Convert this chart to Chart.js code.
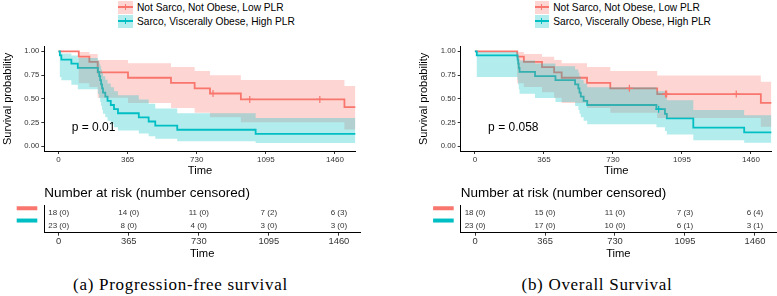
<!DOCTYPE html>
<html>
<head>
<meta charset="utf-8">
<script src="https://cdn.jsdelivr.net/npm/chart.js@4/dist/chart.umd.min.js"></script>
<style>
  body { margin: 0; width: 777px; height: 296px; position: relative; background: #fff; overflow: hidden;
         font-family: 'Liberation Sans', Arial, sans-serif; }
  canvas { position: absolute; }
  .legend { position: absolute; top: 0; width: 260px; height: 30px; }
  .item { position: absolute; left: 0; height: 13px; }
  .key { position: absolute; left: 0; top: 0; width: 14.4px; height: 13px; }
  .key .h { position: absolute; left: 0; right: 0; top: 5.75px; height: 1.5px; }
  .key .v { position: absolute; left: 6.7px; top: 3.5px; width: 1px; height: 6px; }
  .lab { position: absolute; left: 18.7px; top: 0; line-height: 13px; font-size: 10.2px; color: #000; white-space: nowrap; }
  .caption { position: absolute; top: 275px; transform: translateX(-50%); white-space: nowrap;
             font-family: 'Liberation Serif', 'DejaVu Serif', serif; font-size: 17px; line-height: 20px;
             letter-spacing: 0.7px; color: #000; }
</style>
</head>
<body>
<div class="legend" id="pfsLegend" style="left:118.3px"></div>
<div class="legend" id="osLegend" style="left:534.5px"></div>
<canvas id="pfsMain" width="361" height="138" style="left:0;top:40px"></canvas>
<canvas id="pfsRisk" width="361" height="78" style="left:0;top:183px"></canvas>
<canvas id="osMain" width="361" height="138" style="left:416px;top:40px"></canvas>
<canvas id="osRisk" width="361" height="78" style="left:416px;top:183px"></canvas>
<div class="caption" style="left:180.5px">(a) Progression-free survival</div>
<div class="caption" style="left:597px">(b) Overall Survival</div>
<script>
const FONT = "'Liberation Sans', Arial, sans-serif";
Chart.defaults.font.family = FONT;
Chart.defaults.color = '#333';

const groupNames = ['Not Sarco, Not Obese, Low PLR', 'Sarco, Viscerally Obese, High PLR'];
const lineColors = ['#F8766D', '#00BFC4'];
const bandColors = ['rgba(248,118,109,0.3)', 'rgba(0,191,196,0.3)'];
const timeTicks = [0, 365, 730, 1095, 1460];
const probTicks = [0, 0.25, 0.5, 0.75, 1];
const riskRows = [2, 1];

// (a) progression-free survival
const pfsTimeA = [0, 107, 163, 207, 367, 594, 719, 800, 963, 1510, 1568];
const pfsSurvA = [1, 0.944, 0.889, 0.778, 0.722, 0.667, 0.611, 0.556, 0.494, 0.412, 0.412];
const pfsUpperA = [1, 0.992, 0.971, 0.910, 0.874, 0.834, 0.792, 0.748, 0.698, 0.635, 0.635];
const pfsLowerA = [1, 0.664, 0.624, 0.511, 0.456, 0.404, 0.353, 0.306, 0.252, 0.177, 0.177];
const pfsCensorTimeA = [816, 1010, 1380];
const pfsCensorSurvA = [0.556, 0.494, 0.494];

const pfsTimeB = [0, 7, 15, 68, 102, 208, 215, 220, 225, 230, 235, 247, 259, 276, 293, 314, 424, 476, 511, 627, 1041, 1568];
const pfsSurvB = [1, 0.957, 0.913, 0.870, 0.826, 0.783, 0.739, 0.696, 0.652, 0.609, 0.565, 0.522, 0.478, 0.435, 0.391, 0.348, 0.304, 0.261, 0.217, 0.174, 0.130, 0.130];
const pfsUpperB = [1, 0.994, 0.978, 0.956, 0.931, 0.903, 0.873, 0.842, 0.808, 0.774, 0.737, 0.700, 0.662, 0.621, 0.580, 0.537, 0.493, 0.447, 0.399, 0.349, 0.297, 0.297];
const pfsLowerB = [1, 0.729, 0.695, 0.648, 0.600, 0.554, 0.509, 0.466, 0.423, 0.383, 0.343, 0.305, 0.268, 0.233, 0.199, 0.166, 0.135, 0.106, 0.079, 0.054, 0.033, 0.033];
const pfsCensorTimeB = [];
const pfsCensorSurvB = [];

const pfsAtRiskA = [18, 14, 11, 7, 6];
const pfsCensoredA = [0, 0, 0, 2, 3];
const pfsAtRiskB = [23, 8, 4, 3, 3];
const pfsCensoredB = [0, 0, 0, 0, 0];
const pfsPValue = 'p = 0.01';

// (b) overall survival
const osTimeA = [0, 224, 259, 355, 419, 459, 593, 716, 964, 1512, 1568];
const osSurvA = [1, 0.944, 0.889, 0.833, 0.778, 0.722, 0.667, 0.611, 0.550, 0.458, 0.458];
const osUpperA = [1, 0.992, 0.971, 0.943, 0.910, 0.874, 0.834, 0.792, 0.745, 0.681, 0.681];
const osLowerA = [1, 0.664, 0.624, 0.568, 0.511, 0.456, 0.404, 0.353, 0.298, 0.205, 0.205];
const osCensorTimeA = [817, 1008, 1014, 1382];
const osCensorSurvA = [0.611, 0.550, 0.550, 0.550];

const osTimeB = [0, 10, 226, 229, 232, 236, 318, 426, 530, 547, 553, 560, 575, 594, 960, 1005, 1015, 1155, 1424, 1568];
const osSurvB = [1, 0.957, 0.913, 0.870, 0.826, 0.783, 0.739, 0.696, 0.652, 0.609, 0.565, 0.522, 0.478, 0.435, 0.391, 0.342, 0.293, 0.196, 0.147, 0.147];
const osUpperB = [1, 0.994, 0.978, 0.956, 0.931, 0.903, 0.873, 0.842, 0.808, 0.774, 0.737, 0.700, 0.662, 0.621, 0.580, 0.534, 0.486, 0.382, 0.326, 0.326];
const osLowerB = [1, 0.729, 0.695, 0.648, 0.600, 0.554, 0.509, 0.466, 0.423, 0.383, 0.343, 0.305, 0.268, 0.233, 0.199, 0.160, 0.125, 0.063, 0.038, 0.038];
const osCensorTimeB = [972];
const osCensorSurvB = [0.391];

const osAtRiskA = [18, 15, 11, 7, 6];
const osCensoredA = [0, 0, 0, 3, 4];
const osAtRiskB = [23, 17, 10, 6, 3];
const osCensoredB = [0, 0, 0, 1, 1];
const osPValue = 'p = 0.058';

const pValuePos = { x: 70, y: 0.195 };

const pts = (xs, ys) => xs.map((x, i) => ({ x, y: ys[i] }));

const axisStyle = {
  grid: { drawOnChartArea: false, drawTicks: true, tickLength: 3, color: '#333' },
  border: { display: true, color: '#000', width: 1 }
};

function timeAxis(height, tickSize, tickPad) {
  return {
    type: 'linear',
    min: -75,
    max: 1570,
    afterBuildTicks: s => { s.ticks = timeTicks.map(v => ({ value: v })); },
    afterFit: s => { s.height = height; },
    ticks: {
      font: { size: tickSize }, color: '#333', padding: tickPad, maxRotation: 0, autoSkip: false,
      callback: v => String(v)
    },
    title: { display: true, text: 'Time', font: { size: 11.2 }, color: '#000', padding: 0 },
    ...axisStyle
  };
}

const pValueLabel = {
  id: 'pValueLabel',
  afterDatasetsDraw(chart, args, opts) {
    const { ctx, scales: { x, y } } = chart;
    ctx.save();
    ctx.font = `12px ${FONT}`;
    ctx.fillStyle = '#000';
    ctx.textAlign = 'left';
    ctx.textBaseline = 'middle';
    ctx.fillText(opts.text, x.getPixelForValue(pValuePos.x), y.getPixelForValue(pValuePos.y));
    ctx.restore();
  }
};

const riskLabels = {
  id: 'riskLabels',
  afterDatasetsDraw(chart) {
    const { ctx, chartArea } = chart;
    ctx.save();
    ctx.font = `8px ${FONT}`;
    ctx.textAlign = 'center';
    ctx.textBaseline = 'middle';
    chart.data.datasets.forEach((ds, g) => {
      const meta = chart.getDatasetMeta(g);
      ctx.fillStyle = '#333';
      meta.data.forEach((pt, j) => ctx.fillText(ds.labels[j], pt.x, pt.y));
      // coloured strata key left of the table
      ctx.fillStyle = lineColors[g];
      ctx.fillRect(chartArea.left - 27.6, meta.data[0].y - 6.8, 20.6, 4);
    });
    ctx.restore();
  }
};

function survivalChart(id, yWidth, curves, pText) {
  const datasets = [];
  curves.forEach((c, g) => datasets.push({
    data: pts(c.time, c.surv), borderColor: lineColors[g], borderWidth: 1.8,
    stepped: 'before', pointRadius: 0, fill: false, order: 4 - g
  }));
  curves.forEach((c, g) => {
    datasets.push({
      data: pts(c.time, c.upper), borderColor: 'rgba(0,0,0,0)', borderWidth: 0,
      backgroundColor: bandColors[g], fill: '+1', stepped: 'before', pointRadius: 0, order: 2 - g
    });
    datasets.push({
      data: pts(c.time, c.lower), borderColor: 'rgba(0,0,0,0)', borderWidth: 0,
      fill: false, stepped: 'before', pointRadius: 0, order: 2 - g
    });
  });
  curves.forEach((c, g) => datasets.push({
    data: pts(c.censorTime, c.censorSurv), showLine: false, pointStyle: 'cross',
    pointRadius: 3.5, pointBorderWidth: 1.2, pointBorderColor: lineColors[g],
    borderColor: lineColors[g], order: 0
  }));

  return new Chart(document.getElementById(id), {
    type: 'line',
    data: { datasets },
    options: {
      responsive: false,
      animation: false,
      devicePixelRatio: 1,
      events: [],
      layout: { padding: { top: 4.4, right: 1, left: 0, bottom: 0 } },
      plugins: {
        legend: { display: false },
        tooltip: { enabled: false },
        pValueLabel: { text: pText }
      },
      scales: {
        x: timeAxis(27, 8, 1.2),
        y: {
          min: -0.05,
          max: 1.05,
          afterBuildTicks: s => { s.ticks = probTicks.map(v => ({ value: v })); },
          afterFit: s => { s.width = yWidth; },
          ticks: { font: { size: 7.7 }, color: '#333', padding: 2, callback: v => v.toFixed(2) },
          title: {
            display: true, text: 'Survival probability', font: { size: 11 }, color: '#000',
            padding: { top: 1.4, bottom: 0 }
          },
          ...axisStyle
        }
      }
    },
    plugins: [pValueLabel]
  });
}

function riskChart(id, yWidth, risk) {
  const datasets = risk.map((r, g) => ({
    data: timeTicks.map(t => ({ x: t, y: riskRows[g] })),
    labels: r.atRisk.map((n, j) => `${n} (${r.censored[j]})`),
    pointRadius: 0,
    showLine: false
  }));
  return new Chart(document.getElementById(id), {
    type: 'scatter',
    data: { datasets },
    options: {
      responsive: false,
      animation: false,
      devicePixelRatio: 1,
      events: [],
      layout: { padding: { top: 0, right: 1, left: 0, bottom: 0 } },
      plugins: {
        legend: { display: false },
        tooltip: { enabled: false },
        title: {
          display: true, text: 'Number at risk (number censored)', align: 'start', fullSize: false,
          color: '#000', font: { size: 13.5, weight: 'normal' }, padding: { top: 2, bottom: 4.5 }
        }
      },
      scales: {
        x: timeAxis(28.3, 9.4, 0.4),
        y: {
          min: 0.4,
          max: 2.6,
          afterFit: s => { s.width = yWidth; },
          ticks: { display: false },
          grid: { display: false },
          border: { display: true, color: '#000', width: 1 }
        }
      }
    },
    plugins: [riskLabels]
  });
}

function legend(id) {
  const box = document.getElementById(id);
  groupNames.forEach((name, g) => {
    const item = document.createElement('div');
    item.className = 'item';
    item.style.top = (0.5 + g * 14) + 'px';
    item.innerHTML =
      `<div class="key" style="background:${bandColors[g]}">` +
      `<div class="h" style="background:${lineColors[g]}"></div>` +
      `<div class="v" style="background:${lineColors[g]}"></div></div>` +
      `<div class="lab">${name}</div>`;
    box.appendChild(item);
  });
}

legend('pfsLegend');
legend('osLegend');

survivalChart('pfsMain', 44.3, [
  { time: pfsTimeA, surv: pfsSurvA, upper: pfsUpperA, lower: pfsLowerA, censorTime: pfsCensorTimeA, censorSurv: pfsCensorSurvA },
  { time: pfsTimeB, surv: pfsSurvB, upper: pfsUpperB, lower: pfsLowerB, censorTime: pfsCensorTimeB, censorSurv: pfsCensorSurvB }
], pfsPValue);
riskChart('pfsRisk', 44.3, [
  { atRisk: pfsAtRiskA, censored: pfsCensoredA },
  { atRisk: pfsAtRiskB, censored: pfsCensoredB }
]);

survivalChart('osMain', 44.7, [
  { time: osTimeA, surv: osSurvA, upper: osUpperA, lower: osLowerA, censorTime: osCensorTimeA, censorSurv: osCensorSurvA },
  { time: osTimeB, surv: osSurvB, upper: osUpperB, lower: osLowerB, censorTime: osCensorTimeB, censorSurv: osCensorSurvB }
], osPValue);
riskChart('osRisk', 44.7, [
  { atRisk: osAtRiskA, censored: osCensoredA },
  { atRisk: osAtRiskB, censored: osCensoredB }
]);
</script>
</body>
</html>
